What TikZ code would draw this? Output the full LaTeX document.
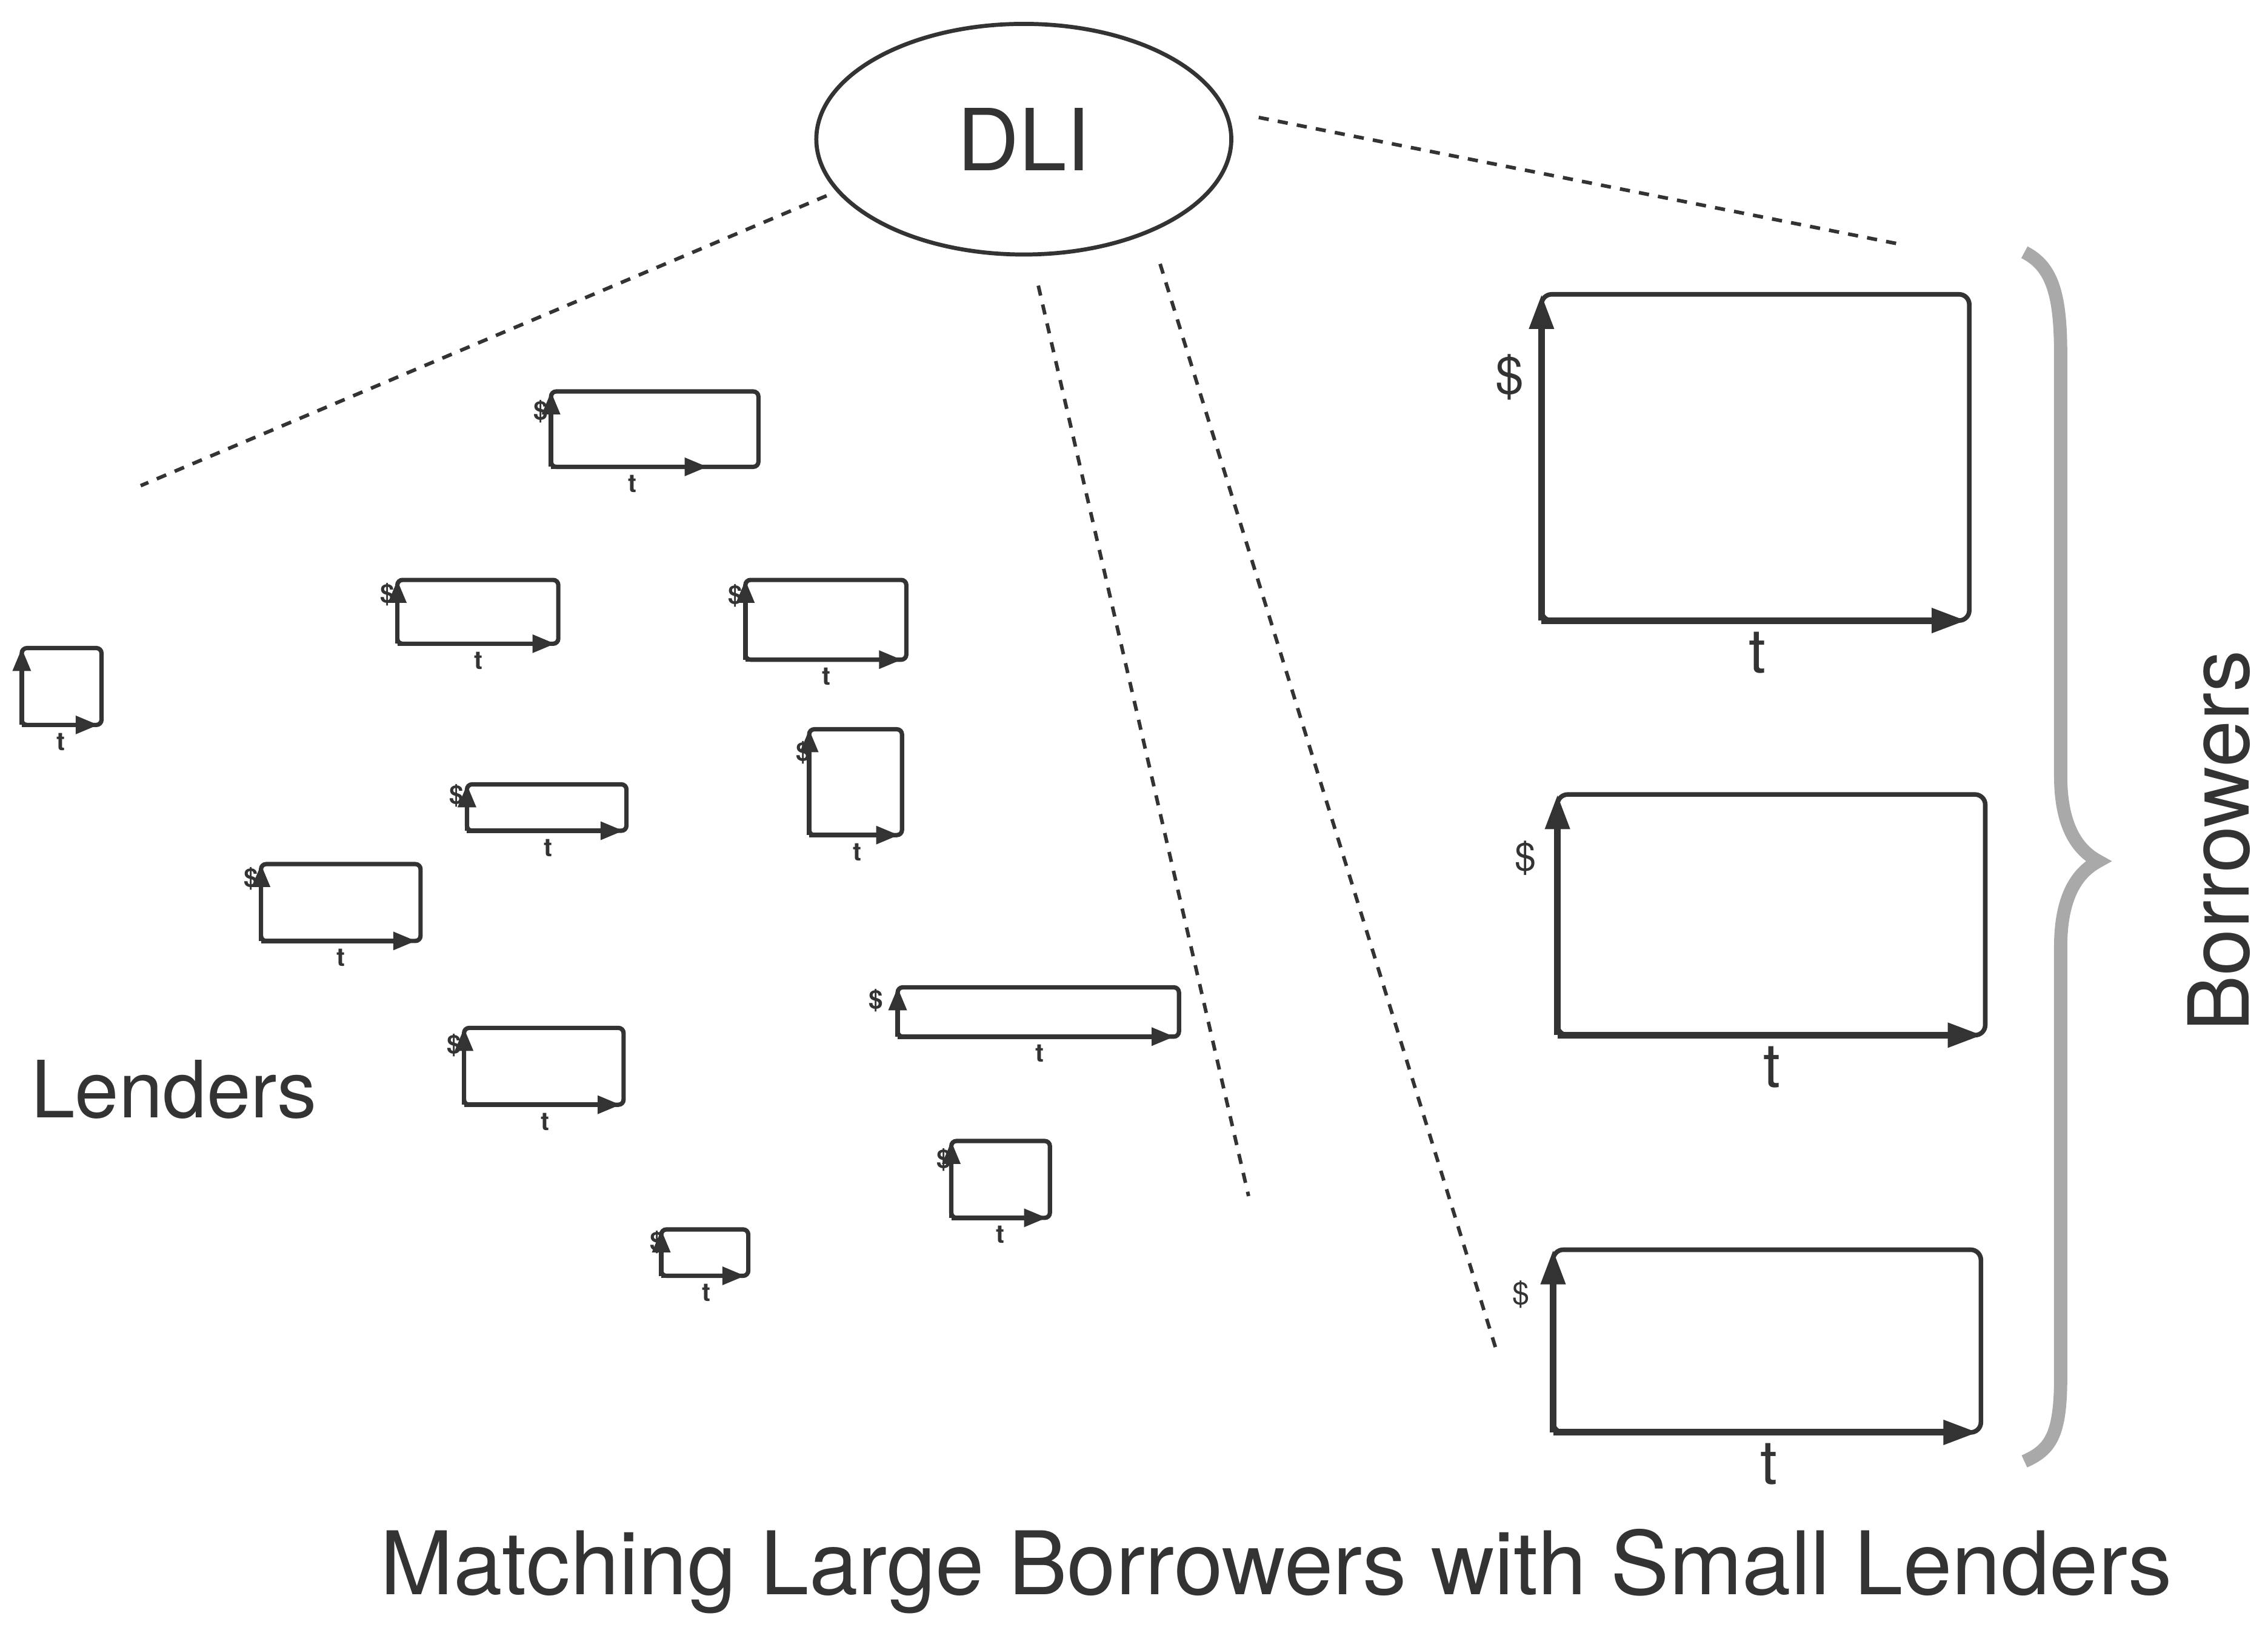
\documentclass[tikz,border=0pt]{standalone}
\usepackage{fontspec}
\setmainfont{TeX Gyre Heros}
\usetikzlibrary{shapes.geometric,arrows.meta}
\definecolor{ink}{HTML}{333333}
\definecolor{bracegray}{HTML}{A9A9A9}
\tikzset{
  sframe/.style={draw=ink,line width=0.85pt,rounded corners=1pt},
  saxis/.style={draw=ink,line width=0.9pt,-{Triangle[length=4.5pt,width=3.4pt]}},
  bframe/.style={draw=ink,line width=0.9pt,rounded corners=2pt},
  baxis/.style={draw=ink,line width=1.3pt,-{Triangle[length=6.8pt,width=4.6pt]}},
  tinylab/.style={text=ink,inner sep=0pt,font=\fontsize{5}{5}\selectfont\bfseries},
  dline/.style={draw=ink,line width=0.7pt,dash pattern=on 2pt off 1.8pt},
  biglab/.style={text=ink,inner sep=0pt},
}
\newcommand{\lendchart}[7]{%
  \coordinate (#1-tl) at (#2,#3);
  \coordinate (#1-br) at (#4,#5);
  \coordinate (#1-bl) at (#2,#5);
  \coordinate (#1-tip) at (#6,#5);
  \draw[sframe] (#1-tl) rectangle (#1-br);
  \draw[saxis] (#1-bl) -- (#1-tl);
  \draw[saxis] (#1-bl) -- (#1-tip);
  \node[tinylab,anchor=north] (#1-t) at (#7,#5+5) {t};
}
\newcommand{\borrchart}[8]{%
  \coordinate (#1-tl) at (#2,#3);
  \coordinate (#1-br) at (#4,#5);
  \coordinate (#1-bl) at (#2,#5);
  \coordinate (#1-tip) at (#4-2,#5);
  \draw[bframe] (#1-tl) rectangle (#1-br);
  \draw[baxis] (#1-bl) -- (#1-tl);
  \draw[baxis] (#1-bl) -- (#1-tip);
  \node[biglab,font=\fontsize{12}{12}\selectfont] (#1-t) at (#6,#5+22) {t};
  \node[biglab,font=\fontsize{#8}{#8}\selectfont] (#1-d) at (#7) {\$};
}
\begin{document}
\begin{tikzpicture}[x=0.01cm,y=-0.01cm]
\useasboundingbox (0,0) rectangle (1564,1126);

% DLI
\node[ellipse,draw=ink,line width=0.8pt,minimum width=2.86cm,minimum height=1.59cm,inner sep=0pt,
      text=ink,font=\fontsize{16.8}{17}\selectfont] (DLI) at (706,96) {DLI};

% dashed lines
\coordinate (d1s) at (570,135); \coordinate (d1e) at (97,335);
\coordinate (d2s) at (868,81);  \coordinate (d2e) at (1308,168);
\coordinate (d3s) at (716,197); \coordinate (d3e) at (861,825);
\coordinate (d4s) at (800,182); \coordinate (d4e) at (1033,935);
\draw[dline] (d1s) -- (d1e);
\draw[dline] (d2s) -- (d2e);
\draw[dline] (d3s) -- (d3e);
\draw[dline] (d4s) -- (d4e);

% lender charts
\lendchart{L1}{380}{270}{523}{322}{488}{436}
\lendchart{L2}{274}{400}{385}{444}{383}{330}
\lendchart{L3}{514}{400}{625}{455}{622}{570}
\lendchart{L4}{15}{447}{70}{500}{68}{42}
\lendchart{L5}{322}{541}{432}{573}{430}{378}
\lendchart{L6}{558}{503}{622}{576}{620}{591}
\lendchart{L7}{180}{596}{290}{649}{287}{235}
\lendchart{L8}{320}{709}{430}{762}{428}{376}
\lendchart{L9}{619}{681}{813}{715}{810}{717}
\lendchart{L10}{656}{787}{724}{840}{722}{690}
\lendchart{L11}{456}{848}{516}{880}{514}{487}

% dollar blobs of lender charts
\node[tinylab] (L1-d) at (373,284) {\$};
\node[tinylab] (L2-d) at (267,410) {\$};
\node[tinylab] (L3-d) at (507,411) {\$};
\node[tinylab] (L5-d) at (315,549) {\$};
\node[tinylab] (L6-d) at (554,519) {\$};
\node[tinylab] (L7-d) at (173,606) {\$};
\node[tinylab] (L8-d) at (313,721) {\$};
\node[tinylab] (L9-d) at (604,690) {\$};
\node[tinylab] (L10-d) at (651,800) {\$};
\node[tinylab] (L11-d) at (453,857) {\$};

% borrower charts
\coordinate (B1d) at (1041,260);
\coordinate (B2d) at (1052,592);
\coordinate (B3d) at (1049,893);
\borrchart{B1}{1063}{203}{1358}{428}{1212}{B1d}{10}
\borrchart{B2}{1074}{548}{1369}{714}{1222}{B2d}{7.5}
\borrchart{B3}{1071}{862}{1366}{988}{1220}{B3d}{6}

% brace
\draw[bracegray,line width=2.6pt]
  (1396,174) .. controls (1416,184) and (1421,205) .. (1421,245)
  -- (1421,535) .. controls (1421,572) and (1434,587) .. (1447,594)
  .. controls (1434,601) and (1421,616) .. (1421,653)
  -- (1421,950) .. controls (1421,990) and (1414,1000) .. (1396,1008);

% texts
\node[biglab,rotate=90,font=\fontsize{16.5}{17}\selectfont] (borrowers) at (1530,580) {Borrowers};
\node[biglab,anchor=base,font=\fontsize{15.5}{16}\selectfont] (lenders) at (120,771) {Lenders};
\node[biglab,anchor=base,font=\fontsize{17.2}{18}\selectfont] (title) at (880,1100) {Matching Large Borrowers with Small Lenders};
\end{tikzpicture}
\end{document}
